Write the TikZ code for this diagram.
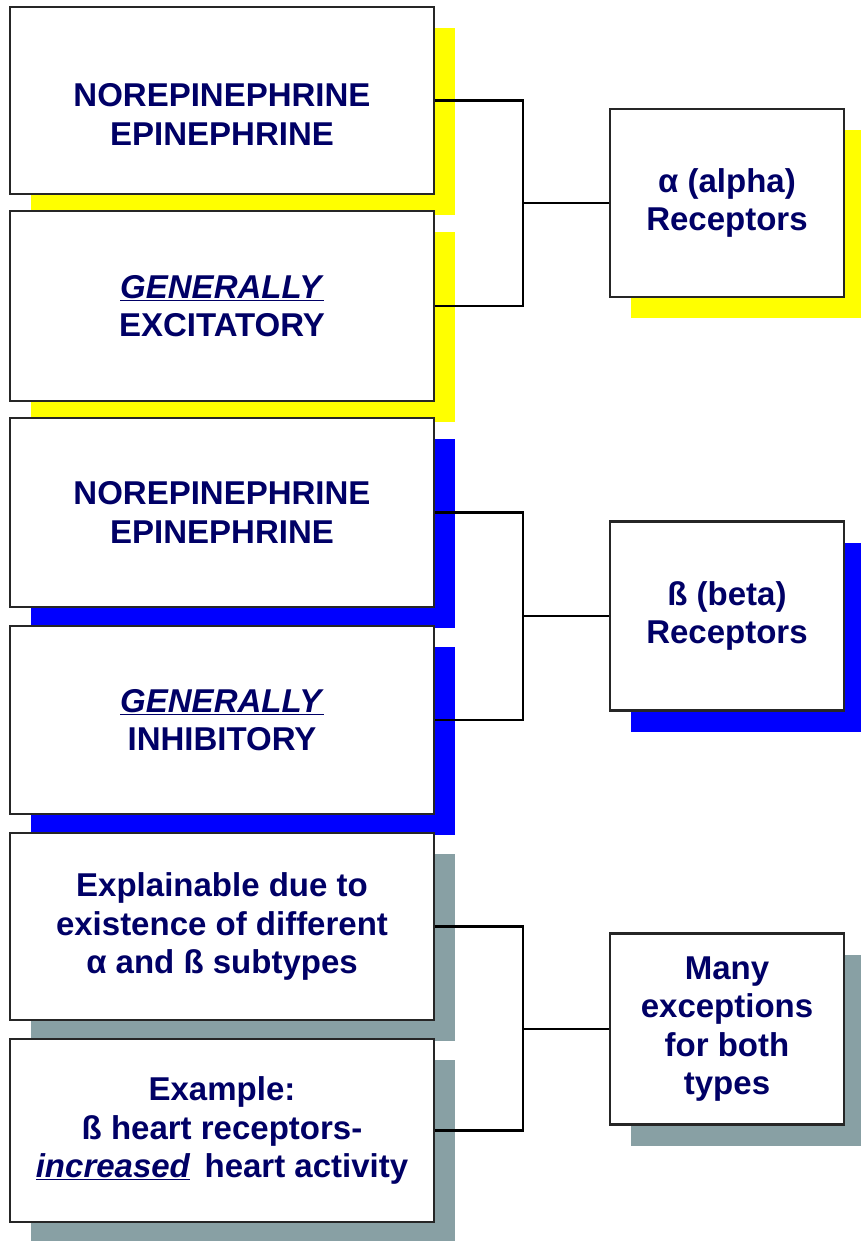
\documentclass[tikz,border=0pt]{standalone}
\usepackage{fontspec}
\setmainfont{Liberation Sans}
\usetikzlibrary{shadows}
\definecolor{txtblue}{RGB}{0,0,102}
\definecolor{shyellow}{RGB}{255,255,0}
\definecolor{shblue}{RGB}{0,0,255}
\definecolor{shgrey}{RGB}{136,160,164}
\begin{document}
\begin{tikzpicture}[x=1pt,y=-1pt,
  txt/.style={align=center, font=\fontsize{33}{38.5}\selectfont\bfseries, text=txtblue, inner sep=0pt},
  box/.style={txt, draw=black!85, line width=2.5pt, fill=white},
  lbox/.style={box, minimum width=424pt},
  rbox/.style={box, minimum width=234pt},
  shy/.style={general shadow={fill=shyellow, shadow xshift=21pt, shadow yshift=-21pt}},
  shb/.style={general shadow={fill=shblue, shadow xshift=21pt, shadow yshift=-21pt}},
  shg/.style={general shadow={fill=shgrey, shadow xshift=21pt, shadow yshift=-21pt}},
  conn/.style={draw=black, line width=2.5pt}
]
\useasboundingbox (0,0) rectangle (861,1241);
\clip (0,0) rectangle (861,1241);
\fill[white] (0,0) rectangle (861,1241);

% left boxes
\node[lbox, shy, minimum height=187pt] (b1) at (222,100.5) {};
\node[txt] (t1) at ([yshift=-14pt]b1.center) {NOREPINEPHRINE\\EPINEPHRINE};
\node[lbox, shy, minimum height=190pt] (b2) at (222,306) {\underline{\textit{GENERALLY}}\\EXCITATORY};
\node[lbox, shb, minimum height=189pt] (b3) at (222,512.5) {NOREPINEPHRINE\\EPINEPHRINE};
\node[lbox, shb, minimum height=188pt] (b4) at (222,720) {\underline{\textit{GENERALLY}}\\INHIBITORY};
\node[lbox, shg, minimum height=187pt] (b5) at (222,926.5) {Explainable due to\\existence of different\\α and ß subtypes};
\node[lbox, shg, minimum height=183pt] (b6) at (222,1130.5) {Example:\\ß heart receptors-\\\underline{\textit{increased}}\hspace{0.15em} heart activity};

% right boxes
\node[rbox, shy, minimum height=188pt] (alpha) at (727,203) {α (alpha)\\Receptors};
\node[rbox, shb, minimum height=189pt] (beta) at (727,616) {ß (beta)\\Receptors};
\node[rbox, shg, minimum height=191pt] (many) at (727,1029) {Many\\exceptions\\for both\\types};

% connectors
\path (alpha.west) -- ++(-86,0) coordinate (ja);
\path (beta.west) -- ++(-86,0) coordinate (jb);
\path (many.west) -- ++(-86,0) coordinate (jc);
\draw[conn] (b1.east) -| (ja) |- (b2.east);
\draw[conn] (ja) -- (alpha.west);
\draw[conn] (b3.east) -| (jb) |- (b4.east);
\draw[conn] (jb) -- (beta.west);
\draw[conn] (b5.east) -| (jc) |- (b6.east);
\draw[conn] (jc) -- (many.west);
\end{tikzpicture}
\end{document}
